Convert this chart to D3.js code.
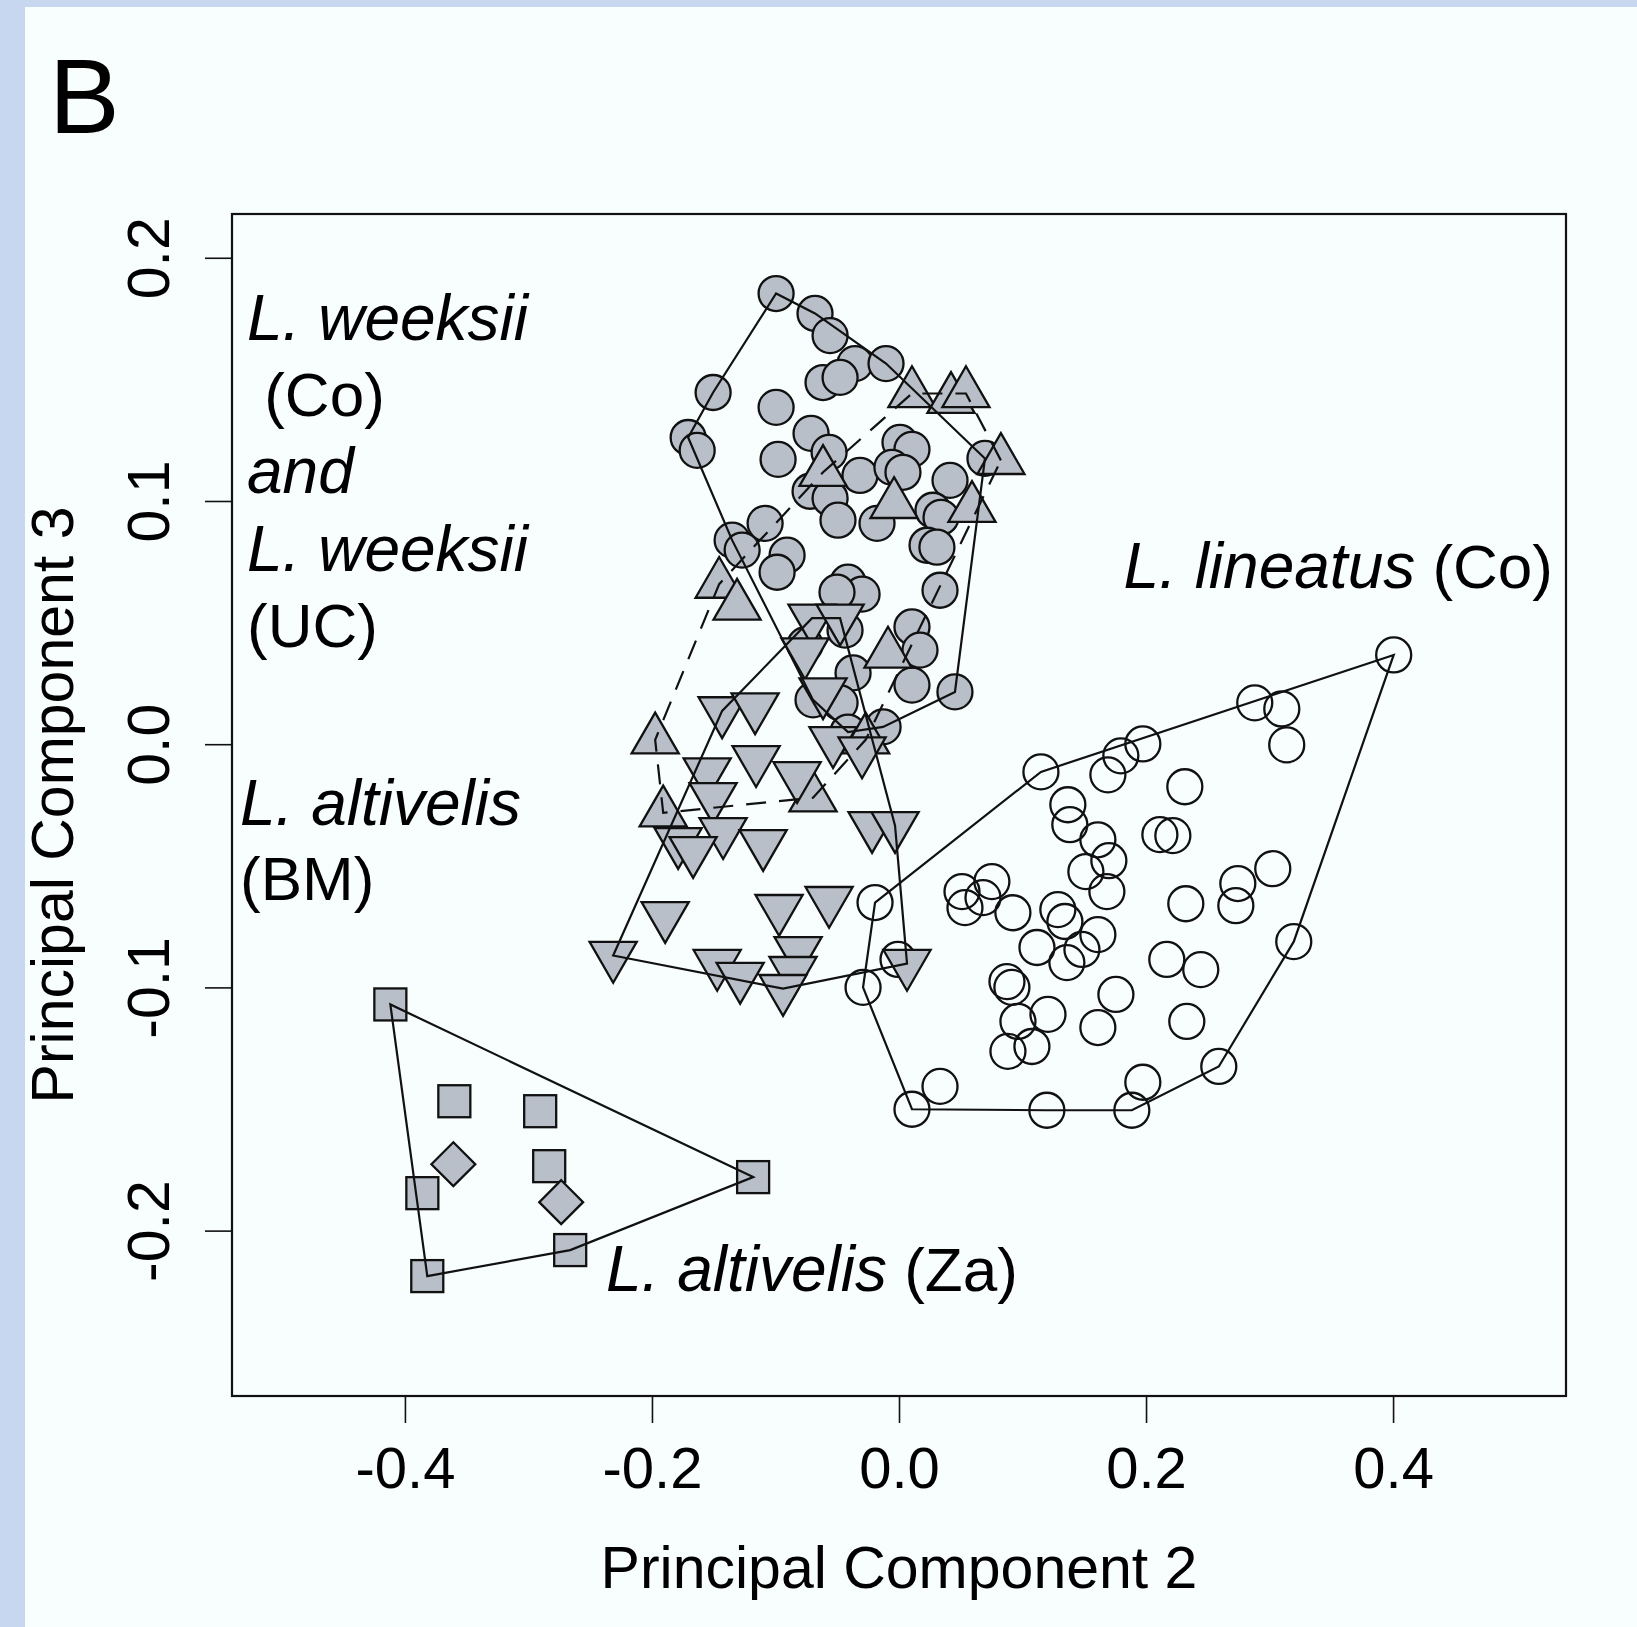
<!DOCTYPE html>
<html>
<head>
<meta charset="utf-8">
<script src="https://cdn.jsdelivr.net/npm/d3@7"></script>
<style>
  html, body { margin: 0; padding: 0; background: #f8fdfd; }
  svg { display: block; }
  text { font-family: "Liberation Sans", Arial, Helvetica, sans-serif; fill: #000; }
</style>
</head>
<body>
<div id="chart"></div>
<script>
// PC2 / PC3 scores, one array per population
var weeksiiCo = [
  [-0.0995, 0.1853], [-0.0680, 0.1771], [-0.0558, 0.1680], [-0.0356, 0.1565], [-0.0105, 0.1565],
  [-0.0615, 0.1487], [-0.0477, 0.1508], [-0.1505, 0.1446], [-0.0995, 0.1385], [-0.1707, 0.1261],
  [-0.1634, 0.1208], [-0.0712, 0.1278], [-0.0566, 0.1200], [-0.0979, 0.1171], [0.0008, 0.1241],
  [0.0105, 0.1212], [-0.0316, 0.1105], [-0.0057, 0.1138], [0.0032, 0.1118], [-0.0720, 0.1040],
  [-0.0558, 0.1011], [-0.0494, 0.0921], [-0.0178, 0.0908], [0.0696, 0.1175], [0.0413, 0.1085],
  [0.0275, 0.0962], [0.0340, 0.0933], [0.0227, 0.0818], [0.0307, 0.0810], [-0.1084, 0.0908],
  [-0.1351, 0.0839], [-0.1270, 0.0798], [-0.0906, 0.0777], [-0.0987, 0.0707], [0.0332, 0.0633],
  [-0.0413, 0.0666], [-0.0299, 0.0617], [-0.0502, 0.0625], [0.0105, 0.0482], [0.0170, 0.0387],
  [0.0453, 0.0215], [0.0105, 0.0243], [-0.0372, 0.0293], [-0.0696, 0.0182], [-0.0477, 0.0170],
  [-0.0129, 0.0071], [-0.0413, 0.0050], [-0.0437, 0.0469], [-0.0761, 0.0408]
];
var weeksiiUC = [
  [0.0105, 0.1442], [0.0421, 0.1418], [0.0542, 0.1442], [0.0825, 0.1167], [-0.0615, 0.1118],
  [-0.0040, 0.0986], [0.0591, 0.0970], [-0.1456, 0.0658], [-0.1311, 0.0568], [-0.0089, 0.0371],
  [-0.1974, 0.0018], [-0.1909, -0.0282], [-0.0696, -0.0220], [-0.0270, 0.0018]
];
var altivelisBM = [
  [-0.0704, 0.0518], [-0.0477, 0.0518], [-0.0761, 0.0379], [-0.0615, 0.0215], [-0.0534, 0.0014],
  [-0.0299, -0.0028], [-0.1432, 0.0137], [-0.1165, 0.0153], [-0.1157, -0.0064], [-0.1553, -0.0114],
  [-0.0825, -0.0130], [-0.1505, -0.0216], [-0.1424, -0.0360], [-0.1788, -0.0401], [-0.1667, -0.0438],
  [-0.1100, -0.0409], [-0.0218, -0.0335], [-0.0032, -0.0335], [-0.1893, -0.0705], [-0.0971, -0.0676],
  [-0.0566, -0.0643], [-0.0817, -0.0849], [-0.0858, -0.0931], [-0.0939, -0.1005], [-0.2314, -0.0869],
  [-0.1472, -0.0902], [-0.1286, -0.0955], [0.0065, -0.0902]
];
var altivelisZaSquares = [
  [-0.4118, -0.1070], [-0.3600, -0.1468], [-0.2905, -0.1509], [-0.2832, -0.1735],
  [-0.3859, -0.1846], [-0.1181, -0.1780], [-0.2662, -0.2080], [-0.3819, -0.2187]
];
var altivelisZaDiamonds = [[-0.3608, -0.1727], [-0.2735, -0.1883]];
var lineatusCo = [
  [0.4005, 0.0367], [0.2880, 0.0170], [0.3099, 0.0145], [0.3139, -0.0003], [0.1974, 0.0001],
  [0.1796, -0.0048], [0.1691, -0.0126], [0.1149, -0.0114], [0.2314, -0.0175], [0.2112, -0.0372],
  [0.2217, -0.0376], [0.1367, -0.0249], [0.1383, -0.0331], [0.1610, -0.0393], [0.1699, -0.0479],
  [0.1513, -0.0524], [0.1683, -0.0606], [0.2743, -0.0573], [0.2727, -0.0664], [0.3026, -0.0512],
  [0.2322, -0.0656], [0.3196, -0.0812], [-0.0194, -0.0651], [-0.0291, -0.1000], [-0.0008, -0.0885],
  [0.0510, -0.0606], [0.0534, -0.0672], [0.0680, -0.0631], [0.0752, -0.0565], [0.0922, -0.0693],
  [0.1286, -0.0680], [0.1343, -0.0729], [0.1117, -0.0836], [0.1359, -0.0898], [0.1610, -0.0783],
  [0.1481, -0.0844], [0.0874, -0.0976], [0.0914, -0.1000], [0.0963, -0.1140], [0.1206, -0.1111],
  [0.0882, -0.1263], [0.1076, -0.1243], [0.1756, -0.1029], [0.1610, -0.1165], [0.2168, -0.0885],
  [0.2443, -0.0927], [0.2330, -0.1140], [0.2589, -0.1325], [0.1974, -0.1390], [0.1885, -0.1505],
  [0.0332, -0.1407], [0.0105, -0.1501], [0.1197, -0.1505]
];

var xTicks = [-0.4, -0.2, 0.0, 0.2, 0.4];
var xTickLabels = ["-0.4", "-0.2", "0.0", "0.2", "0.4"];
var yTicks = [0.2, 0.1, 0.0, -0.1, -0.2];
var yTickLabels = ["0.2", "0.1", "0.0", "-0.1", "-0.2"];

var width = 1637, height = 1627;
var plotL = 232, plotR = 1566, plotT = 214, plotB = 1396;
var R = 17.5;            // circle radius, the other symbols scale off it
var grey = "#b9bfc9";
var ink = "#111";

var svg = d3.select("#chart").append("svg")
  .attr("width", width)
  .attr("height", height);

svg.append("rect").attr("width", width).attr("height", height).attr("fill", "#f8fdfd");
svg.append("rect").attr("width", 25).attr("height", height).attr("fill", "#c7d7ef");
svg.append("rect").attr("width", width).attr("height", 7).attr("fill", "#c7d7ef");

var x = d3.scaleLinear().domain([-0.54, 0.54]).range([plotL, plotR]);
var y = d3.scaleLinear().domain([-0.268, 0.218]).range([plotB, plotT]);

// axes
var xAxis = svg.append("g")
  .attr("transform", "translate(0," + plotB + ")")
  .call(d3.axisBottom(x).tickValues(xTicks).tickSize(27)
    .tickFormat(function(d, i) { return xTickLabels[i]; }));
xAxis.select(".domain").remove();
xAxis.selectAll("line").attr("stroke", ink).attr("stroke-width", 1.6);
xAxis.selectAll("text")
  .attr("y", 92).attr("dy", null)
  .style("font-size", "58px")
  .attr("fill", "#000");

var yAxis = svg.append("g")
  .attr("transform", "translate(" + plotL + ",0)")
  .call(d3.axisLeft(y).tickValues(yTicks).tickSize(27)
    .tickFormat(function(d, i) { return yTickLabels[i]; }));
yAxis.select(".domain").remove();
yAxis.selectAll("line").attr("stroke", ink).attr("stroke-width", 1.6);
yAxis.selectAll("text")
  .attr("x", 0).attr("y", 0).attr("dy", null)
  .attr("text-anchor", "middle")
  .attr("transform", "translate(-63,0) rotate(-90)")
  .style("font-size", "59px")
  .attr("fill", "#000");

svg.append("rect")
  .attr("x", plotL).attr("y", plotT)
  .attr("width", plotR - plotL).attr("height", plotB - plotT)
  .attr("fill", "none").attr("stroke", ink).attr("stroke-width", 2.2);

svg.append("text")
  .attr("x", (plotL + plotR) / 2).attr("y", 1588)
  .attr("text-anchor", "middle")
  .style("font-size", "59px")
  .text("Principal Component 2");

svg.append("text")
  .attr("transform", "translate(73," + (plotT + plotB) / 2 + ") rotate(-90)")
  .attr("text-anchor", "middle")
  .style("font-size", "59px")
  .text("Principal Component 3");

svg.append("text")
  .attr("x", 49).attr("y", 133)
  .style("font-size", "106px")
  .text("B");

// symbols
var tr = 1.555 * R, txc = tr * Math.sqrt(3) / 2, tyc = tr / 2;
var upTri = "M0," + (-tr) + "L" + txc + "," + tyc + "L" + (-txc) + "," + tyc + "Z";
var downTri = "M0," + tr + "L" + txc + "," + (-tyc) + "L" + (-txc) + "," + (-tyc) + "Z";
var dm = 1.2533 * R;
var diamond = "M0," + (-dm) + "L" + dm + ",0L0," + dm + "L" + (-dm) + ",0Z";
var sq = 16;

var pts = svg.append("g").attr("stroke", ink).attr("stroke-width", 2.3);

function place(d) { return "translate(" + x(d[0]) + "," + y(d[1]) + ")"; }

pts.selectAll(".lin").data(lineatusCo).enter().append("circle")
  .attr("cx", function(d) { return x(d[0]); })
  .attr("cy", function(d) { return y(d[1]); })
  .attr("r", R).attr("fill", "none");

pts.selectAll(".wco").data(weeksiiCo).enter().append("circle")
  .attr("cx", function(d) { return x(d[0]); })
  .attr("cy", function(d) { return y(d[1]); })
  .attr("r", R).attr("fill", grey);

pts.selectAll(".wuc").data(weeksiiUC).enter().append("path")
  .attr("d", upTri).attr("transform", place).attr("fill", grey);

pts.selectAll(".bm").data(altivelisBM).enter().append("path")
  .attr("d", downTri).attr("transform", place).attr("fill", grey);

pts.selectAll(".zas").data(altivelisZaSquares).enter().append("rect")
  .attr("x", function(d) { return x(d[0]) - sq; })
  .attr("y", function(d) { return y(d[1]) - sq; })
  .attr("width", 2 * sq).attr("height", 2 * sq).attr("fill", grey);

pts.selectAll(".zad").data(altivelisZaDiamonds).enter().append("path")
  .attr("d", diamond).attr("transform", place).attr("fill", grey);

// convex hulls go on top of the points
function hull(group, dashed) {
  var h = d3.polygonHull(group.map(function(d) { return [x(d[0]), y(d[1])]; }));
  svg.append("path")
    .attr("d", "M" + h.join("L") + "Z")
    .attr("fill", "none")
    .attr("stroke", ink)
    .attr("stroke-width", 2.2)
    .attr("stroke-dasharray", dashed ? "20,13" : null);
}
hull(weeksiiCo, false);
hull(weeksiiUC, true);
hull(altivelisBM, false);
hull(altivelisZaSquares.concat(altivelisZaDiamonds), false);
hull(lineatusCo, false);

// labels
function label(xp, yp, parts, anchor) {
  var t = svg.append("text").attr("x", xp).attr("y", yp)
    .attr("text-anchor", anchor || "start")
    .attr("xml:space", "preserve");
  parts.forEach(function(p) {
    t.append("tspan")
      .style("font-style", p[1] ? "italic" : "normal")
      .style("font-size", p[1] ? "64px" : "62px")
      .text(p[0]);
  });
}
label(247, 340, [["L. weeksii", true]]);
label(247, 416, [[" (Co)", false]]);
label(247, 493, [["and", true]]);
label(247, 571, [["L. weeksii", true]]);
label(247, 647, [["(UC)", false]]);
label(240, 825, [["L. altivelis", true]]);
label(240, 900, [["(BM)", false]]);
label(1553, 588, [["L. lineatus", true], [" (Co)", false]], "end");
label(606, 1291, [["L. altivelis", true], [" (Za)", false]]);
</script>
</body>
</html>
